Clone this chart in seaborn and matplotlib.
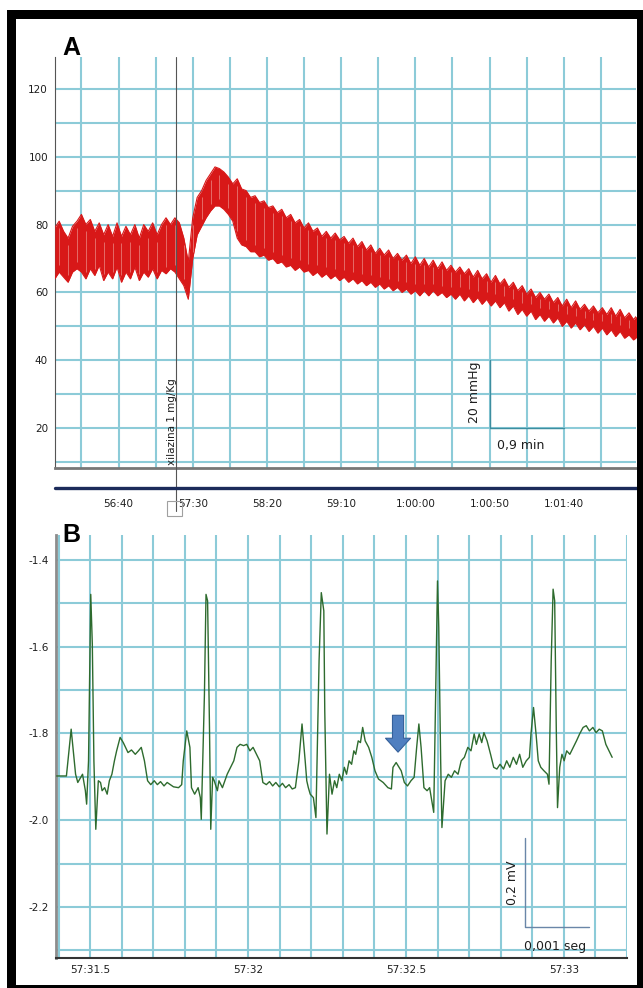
import numpy as np
import pandas as pd
import matplotlib
matplotlib.use("Agg")
import matplotlib.pyplot as plt
import seaborn as sns
from matplotlib.patches import Rectangle
from matplotlib.lines import Line2D

sns.set_theme(style="white")
plt.rcParams["font.family"] = ["DejaVu Sans"]
plt.rcParams["axes.unicode_minus"] = False

# ---------------- Panel A : arterial pressure (mmHg) ----------------
bp_time = list(range(3357, 3751, 3))          # seconds (56:40 = 3400 s)
bp_sys = [79, 81, 78, 76, 79.5, 81, 83, 80, 81.5, 78,
          80.5, 77, 80, 76.5, 80.5, 76.5, 79.5, 77, 80, 76,
          80, 78, 80.5, 77, 80, 82, 80, 82, 80.5, 76,
          69, 82, 88, 90, 93, 95, 97, 96.5, 95.5, 94,
          92, 93.5, 90.5, 90, 88, 88.5, 86.5, 87, 85, 85.5,
          83.5, 84.5, 82, 83, 80.5, 81.5, 79, 80.5, 78, 79,
          76.5, 78, 76, 77.5, 75.5, 76.5, 74.5, 76, 73.5, 75,
          72.5, 74, 71.5, 73, 71, 72.5, 70, 71.5, 69.5, 71,
          68.5, 70.5, 68, 70, 67.5, 69.5, 67, 69, 66.5, 68,
          66, 67.5, 65.5, 67, 64.5, 66.5, 64, 65.5, 63, 65,
          62.5, 64, 61.5, 63, 60.5, 62, 59.5, 61, 58.5, 60,
          58, 59.5, 57, 58.5, 56, 58, 55.5, 57.5, 55, 56.5,
          54.5, 56, 54, 55.5, 53.5, 55.5, 53, 55, 52.5, 54,
          52, 53.5]
bp_dia = [64, 66, 64.5, 63, 66, 67, 66, 64, 67, 65,
          68, 63.5, 66, 64, 67.5, 63, 66, 64, 67.5, 63.5,
          66, 64.5, 67, 64, 66.5, 65.5, 67, 66, 64, 62,
          58, 70, 77, 79.5, 82, 84, 85.5, 85.5, 84.5, 83,
          81, 76, 74, 73.5, 72, 72, 70.5, 71, 69.5, 70,
          68.5, 69, 67.5, 68, 66.5, 67.5, 66, 66.5, 65, 66,
          64.5, 65.5, 64, 65, 63.5, 64.5, 63, 64, 62.5, 63.5,
          62, 63, 61.5, 62.5, 61, 62, 60.5, 61.5, 60, 61,
          59.5, 60.5, 59, 60.5, 59, 60.5, 59, 60, 58.5, 59.5,
          58, 59.5, 57.5, 59, 57, 58.5, 56.5, 58, 56, 57.5,
          55.5, 57, 54.5, 56, 53.5, 55, 53, 54.5, 52, 53.5,
          51.5, 53, 51, 52.5, 50, 51.5, 49.5, 51, 49, 50.5,
          48.5, 50, 48, 49.5, 47.5, 49, 47, 48.5, 46.5, 47.5,
          46, 47]
a_xticks = [3400, 3450, 3500, 3550, 3600, 3650, 3700]
a_xticklabels = ["56:40", "57:30", "58:20", "59:10", "1:00:00", "1:00:50", "1:01:40"]
a_yticks = [20, 40, 60, 80, 100, 120]
drug_time = 3438.7
drug_label = "xilazina 1 mg/Kg"

# ---------------- Panel B : ECG (mV) ----------------
ecg_time = [31.394, 31.425, 31.440, 31.454, 31.461, 31.476, 31.485, 31.489, 31.495, 31.502,
            31.507, 31.512, 31.518, 31.526, 31.533, 31.538, 31.546, 31.554, 31.561, 31.569,
            31.577, 31.584, 31.595, 31.605, 31.620, 31.631, 31.643, 31.653, 31.662, 31.672,
            31.682, 31.692, 31.703, 31.713, 31.723, 31.734, 31.744, 31.754, 31.764, 31.780,
            31.790, 31.795, 31.806, 31.816, 31.821, 31.831, 31.842, 31.849, 31.852, 31.862,
            31.867, 31.872, 31.878, 31.882, 31.888, 31.893, 31.903, 31.908, 31.919, 31.934,
            31.945, 31.955, 31.965, 31.975, 31.986, 31.996, 32.006, 32.016, 32.027, 32.037,
            32.047, 32.058, 32.068, 32.078, 32.088, 32.099, 32.109, 32.119, 32.130, 32.140,
            32.150, 32.161, 32.171, 32.181, 32.186, 32.191, 32.197, 32.207, 32.215, 32.225,
            32.232, 32.240, 32.243, 32.250, 32.258, 32.266, 32.274, 32.281, 32.289, 32.297,
            32.305, 32.312, 32.320, 32.328, 32.335, 32.341, 32.349, 32.356, 32.363, 32.371,
            32.382, 32.392, 32.402, 32.413, 32.428, 32.443, 32.454, 32.459, 32.469, 32.485,
            32.495, 32.505, 32.516, 32.526, 32.534, 32.541, 32.548, 32.557, 32.567, 32.575,
            32.582, 32.588, 32.596, 32.600, 32.604, 32.610, 32.614, 32.624, 32.634, 32.644,
            32.654, 32.665, 32.675, 32.685, 32.696, 32.706, 32.716, 32.723, 32.732, 32.740,
            32.747, 32.757, 32.768, 32.778, 32.788, 32.798, 32.809, 32.819, 32.829, 32.840,
            32.850, 32.860, 32.870, 32.881, 32.891, 32.896, 32.904, 32.912, 32.919, 32.927,
            32.937, 32.948, 32.953, 32.960, 32.966, 32.971, 32.976, 32.980, 32.987, 32.994,
            33.001, 33.009, 33.019, 33.030, 33.040, 33.050, 33.061, 33.071, 33.081, 33.092,
            33.102, 33.112, 33.122, 33.133, 33.143, 33.153]
ecg_mv = [-1.898, -1.898, -1.790, -1.894, -1.913, -1.894, -1.932, -1.963, -1.863, -1.479,
          -1.594, -1.863, -2.021, -1.909, -1.913, -1.932, -1.925, -1.940, -1.909, -1.894,
          -1.863, -1.840, -1.809, -1.821, -1.844, -1.838, -1.848, -1.840, -1.832, -1.863,
          -1.909, -1.918, -1.909, -1.918, -1.911, -1.921, -1.913, -1.918, -1.923, -1.925,
          -1.918, -1.863, -1.794, -1.832, -1.925, -1.940, -1.925, -1.948, -1.998, -1.709,
          -1.479, -1.494, -1.786, -2.021, -1.901, -1.909, -1.932, -1.909, -1.925, -1.894,
          -1.878, -1.863, -1.832, -1.825, -1.828, -1.825, -1.840, -1.832, -1.848, -1.863,
          -1.913, -1.918, -1.911, -1.921, -1.913, -1.923, -1.915, -1.925, -1.918, -1.928,
          -1.925, -1.863, -1.778, -1.863, -1.909, -1.925, -1.940, -1.948, -1.994, -1.632,
          -1.475, -1.517, -1.748, -2.032, -1.894, -1.940, -1.909, -1.925, -1.894, -1.909,
          -1.878, -1.894, -1.863, -1.871, -1.840, -1.848, -1.817, -1.821, -1.786, -1.817,
          -1.832, -1.855, -1.886, -1.905, -1.913, -1.925, -1.928, -1.878, -1.867, -1.886,
          -1.913, -1.921, -1.909, -1.901, -1.832, -1.778, -1.832, -1.925, -1.932, -1.925,
          -1.955, -1.982, -1.632, -1.448, -1.555, -1.863, -2.017, -1.909, -1.894, -1.901,
          -1.886, -1.894, -1.863, -1.855, -1.832, -1.840, -1.801, -1.825, -1.801, -1.821,
          -1.798, -1.817, -1.848, -1.878, -1.882, -1.871, -1.882, -1.863, -1.878, -1.855,
          -1.871, -1.848, -1.878, -1.863, -1.855, -1.801, -1.740, -1.801, -1.863, -1.878,
          -1.886, -1.894, -1.917, -1.632, -1.467, -1.494, -1.786, -1.971, -1.878, -1.848,
          -1.863, -1.840, -1.848, -1.832, -1.817, -1.801, -1.786, -1.782, -1.794, -1.786,
          -1.798, -1.790, -1.794, -1.825, -1.840, -1.855]
b_xticks = [31.5, 32.0, 32.5, 33.0]
b_xticklabels = ["57:31.5", "57:32", "57:32.5", "57:33"]
b_yticks = [-1.4, -1.6, -1.8, -2.0, -2.2]
b_yticklabels = ["-1.4", "-1.6", "-1.8", "-2.0", "-2.2"]
arrow_time = 32.475

# ---------------- styling ----------------
RED = "#d81818"
GRID = "#8ccbd8"
ECG = "#2e6b2e"
TXT = "#1e1e1e"

W, H = 643, 988
fig = plt.figure(figsize=(W / 100, H / 100), dpi=100)
fig.patch.set_facecolor("white")


def fx(px):
    return px / W


def fy(py):
    return 1 - py / H


axA = fig.add_axes([fx(55), fy(468), fx(636) - fx(55), fy(57) - fy(468)])
axB = fig.add_axes([fx(56), fy(958), fx(627) - fx(56), fy(535) - fy(958)])

# ---- Panel A ----
dfA = pd.DataFrame({"t": bp_time, "sys": bp_sys, "dia": bp_dia})
axA.fill_between(dfA["t"], dfA["dia"], dfA["sys"], color=RED, lw=0, zorder=3)
sns.lineplot(data=dfA, x="t", y="sys", ax=axA, color=RED, lw=0.8, zorder=3)
sns.lineplot(data=dfA, x="t", y="dia", ax=axA, color=RED, lw=0.8, zorder=3)
axA.vlines(dfA["t"][1::2], dfA["dia"][1::2] + 2.0, dfA["sys"][1::2] - 2.0,
           color="#f0a8a4", lw=0.4, zorder=4)

axA.set_xlim(3357.2, 3748.7)
axA.set_ylim(8.24, 129.4)
axA.set_xticks(a_xticks)
axA.set_xticklabels(a_xticklabels)
axA.set_xticks(np.arange(3375, 3750, 25), minor=True)
axA.set_yticks(a_yticks)
axA.set_yticklabels([str(v) for v in a_yticks])
axA.set_yticks(np.arange(10, 130, 10), minor=True)
axA.grid(which="both", color=GRID, lw=1.5)
axA.set_axisbelow(True)
axA.tick_params(which="both", length=0, labelsize=7.5, colors=TXT)
axA.tick_params(axis="x", pad=22)
axA.tick_params(axis="y", pad=5)
axA.set_xlabel("")
axA.set_ylabel("")
for s in ("top", "right"):
    axA.spines[s].set_visible(False)
axA.spines["left"].set_color("#555555")
axA.spines["left"].set_linewidth(0.8)
axA.spines["bottom"].set_color("#777777")
axA.spines["bottom"].set_linewidth(2)

# drug marker
axA.plot([drug_time, drug_time], [129.4, -4.5], color="#555555", lw=0.8,
         clip_on=False, zorder=5)
axA.text(3436.0, 9.2, drug_label, rotation=90, ha="center", va="bottom",
         fontsize=7.5, color=TXT, zorder=6)
fig.add_artist(Rectangle((fx(167), fy(516)), 15 / W, 15 / H, fill=False,
                         ec="#a0a0a0", lw=0.8, transform=fig.transFigure))
# scale bar
axA.plot([3650, 3650, 3700], [40, 20, 20], color="#3d8ea0", lw=1, zorder=5)
axA.text(3640.2, 30.6, "20 mmHg", rotation=90, ha="center", va="center",
         fontsize=9, color=TXT)
axA.text(3671.2, 14.8, "0,9 min", ha="center", va="center", fontsize=9, color=TXT)

# navy time bar
fig.add_artist(Line2D([fx(55), fx(643)], [fy(488), fy(488)],
                      transform=fig.transFigure, color="#1c2b5a", lw=2.4))

# ---- Panel B ----
dfB = pd.DataFrame({"s": ecg_time, "mv": ecg_mv})
sns.lineplot(data=dfB, x="s", y="mv", ax=axB, color=ECG, lw=1.0, zorder=3)
axB.set_xlim(31.392, 33.154)
axB.set_ylim(-2.318, -1.342)
axB.set_xticks(b_xticks)
axB.set_xticklabels(b_xticklabels)
axB.set_xticks(np.arange(31.4, 33.2, 0.1), minor=True)
axB.set_yticks(b_yticks)
axB.set_yticklabels(b_yticklabels)
axB.set_yticks(np.arange(-2.3, -1.35, 0.1), minor=True)
axB.grid(which="both", color=GRID, lw=1.5)
axB.set_axisbelow(True)
axB.tick_params(which="both", length=0, labelsize=7.5, colors=TXT)
axB.tick_params(axis="x", pad=5)
axB.tick_params(axis="y", pad=5)
axB.set_xlabel("")
axB.set_ylabel("")
for s in ("top", "right"):
    axB.spines[s].set_visible(False)
axB.spines["left"].set_color("#8c8c8c")
axB.spines["left"].set_linewidth(2)
axB.spines["bottom"].set_color("#333333")
axB.spines["bottom"].set_linewidth(1.5)

# scale bar
axB.plot([32.877, 32.877, 33.080], [-2.041, -2.247, -2.247], color="#6a86a8",
         lw=1, zorder=5)
axB.text(32.838, -2.145, "0,2 mV", rotation=90, ha="center", va="center",
         fontsize=9, color=TXT)
axB.text(32.971, -2.292, "0,001 seg", ha="center", va="center", fontsize=9, color=TXT)

# arrow
axB.annotate("", xy=(arrow_time, -1.843), xytext=(arrow_time, -1.758),
             arrowprops=dict(arrowstyle="simple,head_length=1.0,head_width=1.8,tail_width=0.8",
                             fc="#4f7fc0", ec="#35609a", lw=0.8,
                             shrinkA=0, shrinkB=0, mutation_scale=10),
             zorder=6)

# panel letters
fig.text(fx(62), fy(55), "A", fontsize=18, fontweight="bold",
         family="Liberation Sans", va="baseline", color="black")
fig.text(fx(62), fy(542), "B", fontsize=18, fontweight="bold",
         family="Liberation Sans", va="baseline", color="black")

# thick black frame
for (x0, y0, x1, y1) in [(7, 10, 643, 19), (7, 10, 16, 988),
                         (637, 10, 643, 988), (7, 985, 643, 988)]:
    fig.add_artist(Rectangle((fx(x0), fy(y1)), (x1 - x0) / W, (y1 - y0) / H,
                             transform=fig.transFigure, fc="black", ec="none",
                             zorder=20))

fig.savefig("out.png", dpi=100)
